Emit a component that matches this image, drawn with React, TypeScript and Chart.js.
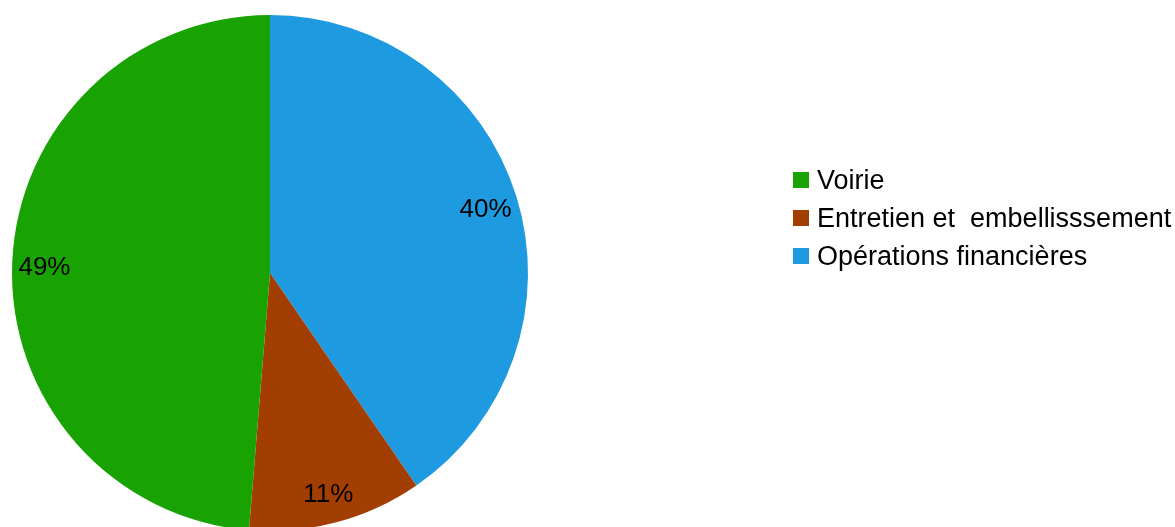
import React, { useEffect, useRef } from "react";
import { Chart, registerables } from "chart.js";

Chart.register(...registerables);

// Legend order (top to bottom)
const categories = ["Voirie", "Entretien et  embellisssement", "Opérations financières"];
const values = [48.7, 10.9, 40.4];
const colors = ["#18a303", "#a33e03", "#1e9ae0"];

const FONT = "'Liberation Sans', Arial, sans-serif";

const labelsPlugin = {
  id: "pctLabels",
  afterDatasetsDraw(chart: any) {
    const ctx = chart.ctx;
    const meta = chart.getDatasetMeta(0);
    const data = chart.data.datasets[0].data as number[];
    const total = data.reduce((a: number, b: number) => a + b, 0);
    ctx.save();
    ctx.font = `26px ${FONT}`;
    ctx.fillStyle = "#000";
    ctx.textAlign = "center";
    ctx.textBaseline = "middle";
    meta.data.forEach((arc: any, i: number) => {
      const p = arc.getProps(["x", "y", "startAngle", "endAngle", "outerRadius"], true);
      const mid = (p.startAngle + p.endAngle) / 2;
      const r = p.outerRadius * 0.875;
      const x = p.x + Math.cos(mid) * r;
      const y = p.y + Math.sin(mid) * r;
      ctx.fillText(`${Math.round((data[i] / total) * 100)}%`, x, y + 4);
    });
    ctx.restore();
  },
};

const legendPlugin = {
  id: "sideLegend",
  afterDraw(chart: any) {
    const ctx = chart.ctx;
    const labels = chart.data.labels as string[];
    const bg = chart.data.datasets[0].backgroundColor as string[];
    const n = labels.length;
    ctx.save();
    ctx.font = `27px ${FONT}`;
    ctx.textBaseline = "alphabetic";
    ctx.textAlign = "left";
    for (let k = 0; k < n; k++) {
      const i = n - 1 - k; // chart data is reversed relative to legend
      const top = 172 + k * 38;
      ctx.fillStyle = bg[i];
      ctx.fillRect(793, top, 16, 16);
      ctx.fillStyle = "#000";
      ctx.fillText(labels[i], 817, top + 17);
    }
    ctx.restore();
  },
};

export default function App() {
  const ref = useRef<HTMLCanvasElement>(null);
  useEffect(() => {
    if (!ref.current) return;
    const chart = new Chart(ref.current, {
      type: "pie",
      data: {
        labels: [...categories].reverse(),
        datasets: [
          {
            data: [...values].reverse(),
            backgroundColor: [...colors].reverse(),
            borderWidth: 0,
          },
        ],
      },
      options: {
        responsive: false,
        animation: false,
        devicePixelRatio: 1,
        layout: { padding: { left: 12, right: 647, top: 15, bottom: 15 } },
        plugins: {
          legend: { display: false },
          tooltip: { enabled: false },
        },
      },
      plugins: [labelsPlugin, legendPlugin],
    });
    return () => chart.destroy();
  }, []);
  return (
    <div style={{ position: "fixed", left: 0, top: 0, width: 1175, height: 527, overflow: "hidden", background: "#fff" }}>
      <canvas ref={ref} width={1175} height={546} style={{ display: "block", width: 1175, height: 546 }} />
    </div>
  );
}
